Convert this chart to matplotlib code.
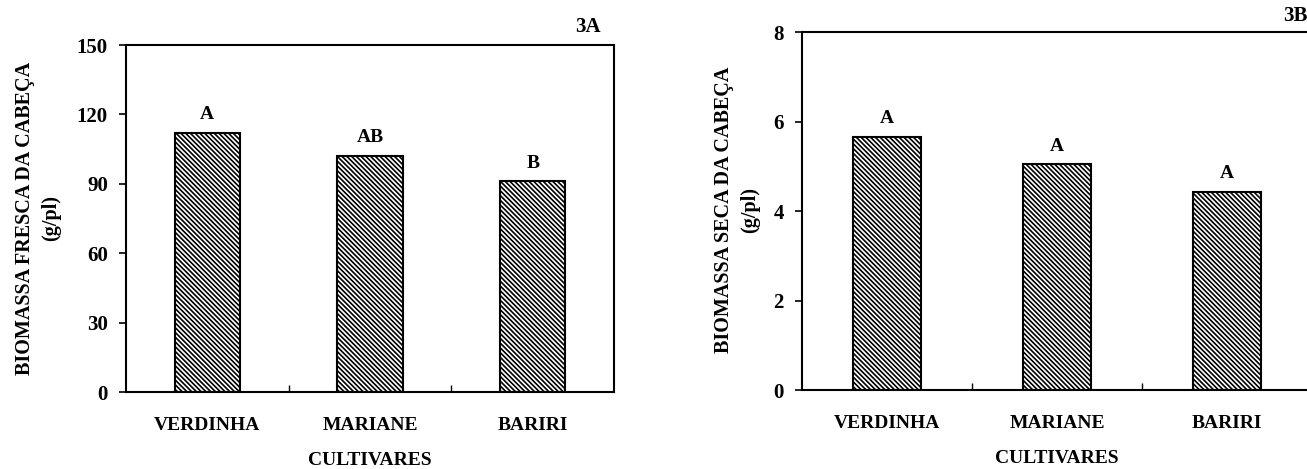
import matplotlib
matplotlib.use("Agg")
import matplotlib.pyplot as plt
import numpy as np

# cultivares e valores
cultivares = ["VERDINHA", "MARIANE", "BARIRI"]
fresca = [112, 102, 91]
fresca_letras = ["A", "AB", "B"]
seca = [5.65, 5.04, 4.43]
seca_letras = ["A", "A", "A"]

plt.rcParams["font.family"] = ["Liberation Serif", "DejaVu Serif"]
plt.rcParams["font.weight"] = "bold"
plt.rcParams["hatch.linewidth"] = 1.2
plt.rcParams["hatch.color"] = "black"

W, H = 1307, 469
fig = plt.figure(figsize=(W / 100, H / 100), dpi=100)


def painel(rect, valores, letras, ymax, yticks, ylabel, lab_xy, tag, tag_xy, tag_ha):
    ax = fig.add_axes(rect)
    x = np.arange(len(cultivares))
    ax.bar(x, valores, width=0.4, color="white", edgecolor="black",
           linewidth=1.5, hatch="\\" * 7)
    ax.set_xlim(-0.5, len(cultivares) - 0.5)
    ax.set_ylim(0, ymax)
    ax.set_yticks(yticks)
    ax.set_xticks(x, cultivares)
    ax.set_xticks([0.5, 1.5], minor=True)
    ax.tick_params(axis="x", which="major", length=0, pad=18, labelsize=14)
    ax.tick_params(axis="x", which="minor", direction="in", length=5, width=1)
    ax.tick_params(axis="y", direction="out", length=5, width=1.2, pad=8, labelsize=15)
    for lbl in ax.get_xticklabels() + ax.get_yticklabels():
        lbl.set_fontweight("bold")
    for sp in ax.spines.values():
        sp.set_linewidth(1.5)
    ax.set_xlabel("CULTIVARES", fontsize=14, fontweight="bold", labelpad=13)
    for xi, v, t in zip(x, valores, letras):
        ax.annotate(t, (xi, v), xytext=(0, 7), textcoords="offset points",
                    ha="center", va="bottom", fontsize=14, fontweight="bold")
    fig.text(lab_xy[0] / W, 1 - lab_xy[1] / H, ylabel, rotation=90,
             ha="center", va="center", multialignment="center",
             fontsize=14.5, fontweight="bold", linespacing=1.45)
    fig.text(tag_xy[0] / W, 1 - tag_xy[1] / H, tag, ha=tag_ha, va="center",
             fontsize=15, fontweight="bold")
    return ax


painel([126 / W, 1 - 392 / H, 488 / W, 347 / H], fresca, fresca_letras, 150,
       [0, 30, 60, 90, 120, 150], "BIOMASSA FRESCA DA CABEÇA\n(g/pl)",
       (38, 218), "3A", (601, 27), "right")
painel([802 / W, 1 - 390 / H, 510 / W, 358 / H], seca, seca_letras, 8,
       [0, 2, 4, 6, 8], "BIOMASSA SECA DA CABEÇA\n(g/pl)",
       (737, 210), "3B", (1283, 16), "left")

fig.savefig("out.png", dpi=100)
